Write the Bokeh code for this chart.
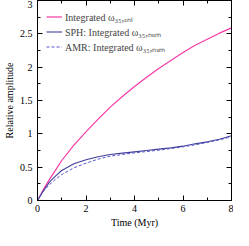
from bokeh.plotting import figure
from bokeh.models import LinearAxis, Range1d, Legend, LegendItem, CustomJSTickFormatter, SingleIntervalTicker
from bokeh.embed import file_html
from bokeh.resources import INLINE

# data
t = [0, 0.25, 0.5, 0.75, 1, 1.5, 2, 2.5, 3, 3.5, 4, 4.5, 5, 5.5, 6, 6.5, 7, 7.5, 8]
anl = [0, 0.17, 0.32, 0.46, 0.6, 0.83, 1.03, 1.22, 1.40, 1.56, 1.71, 1.85, 1.98, 2.10, 2.22, 2.33, 2.42, 2.51, 2.59]
sph = [0, 0.15, 0.28, 0.37, 0.45, 0.55, 0.61, 0.655, 0.69, 0.71, 0.73, 0.75, 0.77, 0.79, 0.815, 0.85, 0.88, 0.92, 0.97]
amr = [0, 0.14, 0.24, 0.32, 0.39, 0.49, 0.56, 0.62, 0.665, 0.69, 0.715, 0.735, 0.755, 0.78, 0.805, 0.835, 0.87, 0.91, 0.955]

labels = ["Integrated \u03c9\u2083\u2085,\u2090\u2099\u2097",
          "SPH: Integrated \u03c9\u2083\u2085,\u2099\u1d64\u2098",
          "AMR: Integrated \u03c9\u2083\u2085,\u2099\u1d64\u2098"]
x_label = "Time (Myr)"
y_label = "Relative amplitude"

FONT = "Liberation Serif"

p = figure(width=233, height=230, output_backend="svg", toolbar_location=None,
           x_range=Range1d(0, 8), y_range=Range1d(0, 3),
           min_border_left=0, min_border_right=2, min_border_top=0, min_border_bottom=0)
p.background_fill_color = "white"
p.border_fill_color = "white"
p.outline_line_color = "black"
p.outline_line_width = 1
p.grid.visible = False

r1 = p.line(t, anl, line_color="#f53aa6", line_width=1.2)
r2 = p.line(t, sph, line_color="#40409a", line_width=1.1)
r3 = p.line(t, amr, line_color="#5555cc", line_width=1.0, line_dash="3 2")

fmt = CustomJSTickFormatter(code="return tick.toString();")
blank = CustomJSTickFormatter(code="return '';")
xt = SingleIntervalTicker(interval=2, num_minor_ticks=2)
yt = SingleIntervalTicker(interval=0.5, num_minor_ticks=2)

def style(ax, ticker, show):
    ax.ticker = ticker
    ax.major_tick_in = 5
    ax.major_tick_out = 0
    ax.minor_tick_in = 3
    ax.minor_tick_out = 0
    ax.axis_line_color = "black"
    ax.major_tick_line_color = "black"
    ax.minor_tick_line_color = "black"
    ax.major_label_text_color = "black"
    ax.major_label_text_font = FONT
    if show:
        ax.formatter = fmt
        ax.major_label_text_font_size = "10px"
        ax.axis_label_text_font = FONT
        ax.axis_label_text_font_size = "10px"
        ax.axis_label_text_font_style = "normal"
        ax.axis_label_text_color = "black"
    else:
        ax.formatter = blank
        ax.major_label_text_font_size = "1px"
        ax.major_label_standoff = 0

style(p.xaxis[0], xt, True)
style(p.yaxis[0], yt, True)
p.xaxis[0].axis_label = x_label
p.yaxis[0].axis_label = y_label
p.xaxis[0].major_label_standoff = 4
p.xaxis[0].axis_label_standoff = 2
p.yaxis[0].major_label_standoff = 5
p.yaxis[0].axis_label_standoff = 2

top = LinearAxis()
right = LinearAxis()
style(top, xt, False)
style(right, yt, False)
p.add_layout(top, "above")
p.add_layout(right, "right")

legend = Legend(items=[LegendItem(label=labels[0], renderers=[r1]),
                       LegendItem(label=labels[1], renderers=[r2]),
                       LegendItem(label=labels[2], renderers=[r3])],
                location="top_left", margin=9, padding=11,
                border_line_color=None, background_fill_alpha=0,
                label_text_font=FONT, label_text_font_size="10px",
                label_height=15, spacing=0, glyph_width=16, glyph_height=15,
                label_standoff=3)
p.add_layout(legend)

open("out.html", "w").write(file_html(p, INLINE))
